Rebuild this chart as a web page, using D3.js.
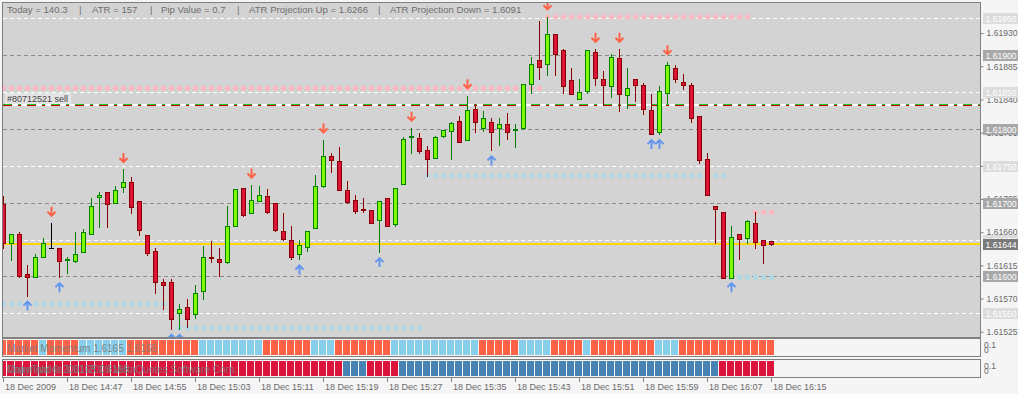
<!DOCTYPE html>
<html>
<head>
<meta charset="utf-8">
<script src="https://cdn.jsdelivr.net/npm/d3@7"></script>
<style>
body { margin: 0; background: #f5f5f5; }
svg { display: block; font-family: "Liberation Sans", Arial, sans-serif; }
</style>
</head>
<body>
<div id="container"></div>
<script>
// 1-minute bars, 18 Dec 2009 14:39 .. 16:15
let open = [1.61698,1.61645,1.61658,1.61603,1.61599,1.61626,1.61639,1.61638,1.61622,1.61620,
1.61633,1.61658,1.61707,1.61715,1.61699,1.61721,1.61728,1.61702,1.61656,1.61634,
1.61593,1.61593,1.61550,1.61558,1.61550,1.61580,1.61626,1.61624,1.61619,1.61668,
1.61720,1.61686,1.61702,1.61709,1.61699,1.61661,1.61649,1.61630,1.61639,1.61665,
1.61722,1.61763,1.61756,1.61717,1.61703,1.61691,1.61690,1.61676,1.61706,1.61671,
1.61725,1.61789,1.61788,1.61771,1.61760,1.61790,1.61797,1.61811,1.61785,1.61827,
1.61802,1.61809,1.61801,1.61807,1.61798,1.61801,1.61861,1.61893,1.61888,1.61929,
1.61907,1.61866,1.61841,1.61851,1.61904,1.61868,1.61858,1.61896,1.61846,1.61868,
1.61860,1.61826,1.61796,1.61849,1.61883,1.61864,1.61860,1.61817,1.61759,1.61695,
1.61688,1.61599,1.61657,1.61652,1.61672,1.61650,1.61648];
let high = [1.61709,1.61658,1.61660,1.61615,1.61630,1.61652,1.61672,1.61638,1.61626,1.61660,
1.61664,1.61707,1.61715,1.61715,1.61722,1.61745,1.61735,1.61702,1.61656,1.61638,
1.61596,1.61596,1.61563,1.61570,1.61588,1.61641,1.61648,1.61638,1.61695,1.61718,
1.61720,1.61724,1.61722,1.61718,1.61699,1.61686,1.61669,1.61649,1.61661,1.61737,
1.61785,1.61767,1.61775,1.61729,1.61711,1.61707,1.61690,1.61702,1.61706,1.61720,
1.61789,1.61801,1.61794,1.61777,1.61790,1.61798,1.61809,1.61817,1.61845,1.61834,
1.61824,1.61815,1.61815,1.61821,1.61807,1.61861,1.61897,1.61946,1.61952,1.61929,
1.61908,1.61883,1.61868,1.61907,1.61908,1.61878,1.61902,1.61908,1.61883,1.61868,
1.61862,1.61847,1.61858,1.61891,1.61887,1.61874,1.61862,1.61817,1.61768,1.61696,
1.61688,1.61668,1.61657,1.61676,1.61687,1.61650,1.61648];
let low = [1.61639,1.61622,1.61599,1.61574,1.61599,1.61626,1.61638,1.61599,1.61605,1.61620,
1.61633,1.61658,1.61667,1.61667,1.61699,1.61715,1.61686,1.61656,1.61629,1.61578,
1.61556,1.61529,1.61529,1.61531,1.61543,1.61570,1.61619,1.61601,1.61618,1.61668,
1.61682,1.61686,1.61702,1.61686,1.61662,1.61649,1.61624,1.61623,1.61635,1.61665,
1.61721,1.61741,1.61717,1.61699,1.61686,1.61688,1.61673,1.61633,1.61668,1.61669,
1.61725,1.61767,1.61768,1.61736,1.61760,1.61789,1.61759,1.61782,1.61785,1.61796,
1.61797,1.61771,1.61778,1.61786,1.61775,1.61800,1.61849,1.61868,1.61873,1.61873,
1.61849,1.61847,1.61841,1.61849,1.61860,1.61832,1.61843,1.61824,1.61828,1.61838,
1.61820,1.61793,1.61793,1.61835,1.61864,1.61854,1.61809,1.61754,1.61710,1.61645,
1.61599,1.61599,1.61624,1.61645,1.61638,1.61618,1.61643];
let close = [1.61645,1.61657,1.61601,1.61599,1.61626,1.61645,1.61639,1.61620,1.61624,1.61630,
1.61660,1.61696,1.61710,1.61699,1.61717,1.61728,1.61694,1.61662,1.61631,1.61592,
1.61589,1.61543,1.61556,1.61542,1.61578,1.61626,1.61625,1.61620,1.61668,1.61718,
1.61683,1.61703,1.61710,1.61687,1.61662,1.61650,1.61626,1.61642,1.61661,1.61722,
1.61763,1.61758,1.61717,1.61701,1.61688,1.61690,1.61673,1.61702,1.61668,1.61720,
1.61786,1.61790,1.61771,1.61759,1.61789,1.61798,1.61808,1.61782,1.61826,1.61809,
1.61815,1.61796,1.61807,1.61796,1.61800,1.61861,1.61888,1.61883,1.61929,1.61902,
1.61858,1.61847,1.61850,1.61907,1.61869,1.61860,1.61897,1.61847,1.61855,1.61860,
1.61827,1.61794,1.61851,1.61887,1.61868,1.61860,1.61815,1.61758,1.61710,1.61691,
1.61599,1.61654,1.61650,1.61675,1.61646,1.61643,1.61644];

// time axis labels, one every 8 bars
let timeLabels = ["18 Dec 2009","18 Dec 14:47","18 Dec 14:55","18 Dec 15:03","18 Dec 15:11",
  "18 Dec 15:19","18 Dec 15:27","18 Dec 15:35","18 Dec 15:43","18 Dec 15:51",
  "18 Dec 15:59","18 Dec 16:07","18 Dec 16:15"];
let priceTicks = [1.61930,1.61885,1.61840,1.61795,1.61750,1.61705,1.61660,1.61615,1.61570,1.61525];

// horizontal levels
let whiteLevels = [1.6195,1.6185,1.6175,1.6165,1.6155];
let grayLevels = [1.6190,1.6180,1.6170,1.6160];
let bidPrice = 1.61644;
let orderPrice = 1.61833;
let orderLabel = "#80712521 sell";

// dotted resistance / support rows: [from bar, to bar, price]
let pinkRows = [[0,67,1.61855],[68,93,1.61952],[94,96,1.61687]];
let blueRows = [[0,20,1.61563],[22,52,1.61530],[53,90,1.61737],[91,96,1.61599]];

// arrow signals (bar indexes)
let sellSignals = [6,15,31,40,51,58,68,74,77,83];
let buySignals = [3,7,21,22,37,47,61,81,82,91];

// indicator windows: 1 = down colour, 0 = up colour
let momentum = [1,1,1,1,1,0,1,1,1,1, 0,0,0,0,0,0,1,1,1,1, 1,1,1,1,1,0,0,0,0,0,
  0,0,0,1,1,1,1,1,1,0, 0,0,1,1,1,1,1,1,1,0, 0,0,0,0,0,0,0,0,0,0,
  1,1,1,1,1,0,0,0,0,1, 1,1,1,0,1,1,1,1,1,1, 1,1,0,0,0,1,1,1,1,1, 1,1,1,1,1,1,1];
let makeTrades = [1,1,1,1,1,1,1,1,1,1, 1,1,1,1,1,1,1,1,1,1, 1,1,1,1,1,1,1,1,1,1,
  1,1,1,1,1,1,1,1,1,1, 1,1,1,0,0,0,1,1,1,1, 0,0,0,0,0,0,0,0,0,0,
  0,0,0,0,0,0,0,0,0,0, 0,0,0,0,0,0,0,0,0,0, 0,0,0,0,0,0,0,0,0,0, 1,1,1,1,1,1,1];

let infoTexts = [["Today = 140.3",7],["|",79],["ATR = 157",92],["|",150],["Pip Value = 0.7",161],
  ["|",237],["ATR Projection Up = 1.6266",249],["|",378],["ATR Projection Down = 1.6091",390]];

let w = 1018;
let h = 394;
let plotL = 3, plotR = 980, plotT = 3, plotB = 337;

let viz = d3.select("#container").append("svg")
  .attr("width", w).attr("height", h)
  .style("background-color", "#f5f5f5");

let xScale = d3.scaleLinear().domain([0, 96]).range([3, 771]);
let yScale = d3.scaleLinear().domain([1.6155, 1.6195]).range([313.3, 18.3]);

let defs = viz.append("defs");
defs.append("clipPath").attr("id", "plotClip").append("rect")
  .attr("x", plotL).attr("y", plotT).attr("width", plotR - plotL).attr("height", plotB - plotT);
defs.append("clipPath").attr("id", "subClip").append("rect")
  .attr("x", plotL).attr("y", 338).attr("width", plotR - plotL).attr("height", 40);

// main plot background
viz.append("rect").attr("x", 2.5).attr("y", 2.5).attr("width", plotR - 2).attr("height", plotB - 2)
  .attr("fill", "#d3d3d3").attr("stroke", "#808080");

let plot = viz.append("g").attr("clip-path", "url(#plotClip)");

// grid / level lines
plot.selectAll(".wl").data(whiteLevels).enter().append("line")
  .attr("x1", plotL).attr("x2", plotR)
  .attr("y1", d => Math.round(yScale(d)) + 0.5).attr("y2", d => Math.round(yScale(d)) + 0.5)
  .attr("stroke", "#ffffff").attr("stroke-dasharray", "4,3");
plot.selectAll(".gl").data(grayLevels).enter().append("line")
  .attr("x1", plotL).attr("x2", plotR)
  .attr("y1", d => Math.round(yScale(d)) + 0.5).attr("y2", d => Math.round(yScale(d)) + 0.5)
  .attr("stroke", "#8c8c8c").attr("stroke-dasharray", "4,3");

// dotted rows
function dotRows(rows, color) {
  rows.forEach(function(r) {
    let idx = d3.range(r[0], r[1] + 1);
    plot.append("g").selectAll("circle").data(idx).enter().append("circle")
      .attr("cx", d => xScale(d) + 0.5)
      .attr("cy", yScale(r[2]))
      .attr("r", 2.5)
      .attr("fill", color);
  });
}
dotRows(pinkRows, "#ffb6c1");
dotRows(blueRows, "#add8e6");

// order line
let oy = Math.round(yScale(orderPrice));
plot.append("line").attr("x1", plotL).attr("x2", plotR).attr("y1", oy).attr("y2", oy)
  .attr("stroke", "#ffffff").attr("stroke-width", 2);
plot.append("line").attr("x1", plotL).attr("x2", plotR).attr("y1", oy - 0.5).attr("y2", oy - 0.5)
  .attr("stroke", "#22c322").attr("stroke-dasharray", "9,6,3,6");
plot.append("line").attr("x1", plotL).attr("x2", plotR).attr("y1", oy + 0.5).attr("y2", oy + 0.5)
  .attr("stroke", "#c00000").attr("stroke-dasharray", "9,6,3,6");
plot.append("rect").attr("x", 5).attr("y", oy - 12).attr("width", 66).attr("height", 11)
  .attr("fill", "#e4e4e4");
plot.append("text").attr("x", 7).attr("y", oy - 3).text(orderLabel)
  .attr("font-size", 9).attr("fill", "#404040");

// bid line
let by = Math.round(yScale(bidPrice));
plot.append("line").attr("x1", plotL).attr("x2", plotR).attr("y1", by).attr("y2", by)
  .attr("stroke", "#ffd700").attr("stroke-width", 2);

// candles
let bars = open.map(function(o, i) {
  return {i: i, o: o, h: high[i], l: low[i], c: close[i]};
});
function edgeColor(d) { return d.c > d.o ? "#008000" : (d.c < d.o ? "#8b0000" : "#000000"); }
let candles = plot.append("g").attr("shape-rendering", "crispEdges");
candles.selectAll(".wick").data(bars).enter().append("line")
  .attr("x1", d => xScale(d.i) + 0.5).attr("x2", d => xScale(d.i) + 0.5)
  .attr("y1", d => yScale(d.h)).attr("y2", d => yScale(d.l) + 1)
  .attr("stroke", edgeColor);
candles.selectAll(".body").data(bars.filter(d => d.o !== d.c)).enter().append("rect")
  .attr("x", d => xScale(d.i) - 1.5)
  .attr("width", 4)
  .attr("y", d => Math.round(yScale(Math.max(d.o, d.c))) + 0.5)
  .attr("height", d => Math.max(1, Math.round(Math.abs(yScale(d.o) - yScale(d.c)))))
  .attr("fill", d => d.c > d.o ? "#7cfc00" : "#dc143c")
  .attr("stroke", edgeColor);
candles.selectAll(".doji").data(bars.filter(d => d.o === d.c)).enter().append("line")
  .attr("x1", d => xScale(d.i) - 2).attr("x2", d => xScale(d.i) + 3)
  .attr("y1", d => Math.round(yScale(d.o)) + 0.5).attr("y2", d => Math.round(yScale(d.o)) + 0.5)
  .attr("stroke", "#000000");

// arrows
function arrowPath(cx, cy, dir) {
  // dir = 1 down, -1 up
  return "M" + cx + "," + (cy - 5 * dir) + "L" + cx + "," + (cy + 4 * dir) +
    "M" + (cx - 4) + "," + cy + "L" + cx + "," + (cy + 4 * dir) + "L" + (cx + 4) + "," + cy;
}
plot.selectAll(".sell").data(sellSignals).enter().append("path")
  .attr("d", d => arrowPath(xScale(d) + 0.5, yScale(high[d]) - 11.5, 1))
  .attr("fill", "none").attr("stroke", "#ff6347").attr("stroke-width", 2);
plot.selectAll(".buy").data(buySignals).enter().append("path")
  .attr("d", d => arrowPath(xScale(d) + 0.5, yScale(low[d]) + 10, -1))
  .attr("fill", "none").attr("stroke", "#6495ed").attr("stroke-width", 2);

// info line
plot.selectAll(".info").data(infoTexts).enter().append("text")
  .attr("x", d => d[1]).attr("y", 13)
  .attr("font-size", 9.6).attr("fill", "#6e6e6e")
  .text(d => d[0]);

// price axis
let yAxis = d3.axisRight(yScale).tickValues(priceTicks).tickFormat(d3.format(".5f"))
  .tickSize(3).tickPadding(3);
let yAxisGroup = viz.append("g").attr("transform", "translate(" + (plotR + 0.5) + ",0)").call(yAxis);
yAxisGroup.select(".domain").attr("stroke", "#808080").attr("d", "M0," + plotT + "V" + (plotB + 0.5));
yAxisGroup.selectAll("line").attr("stroke", "#808080");
yAxisGroup.selectAll("text").attr("font-size", 8.6).attr("fill", "#6a6a6a")
  .attr("font-family", "Liberation Sans, Arial, sans-serif");

function priceBox(value, fill) {
  let cy = Math.round(yScale(value));
  let g = viz.append("g");
  g.append("rect").attr("x", 983).attr("y", cy - 5).attr("width", 36).attr("height", 11).attr("fill", fill);
  g.append("text").attr("x", 985.5).attr("y", cy + 4).text(d3.format(".5f")(value))
    .attr("font-size", 8.6).attr("fill", "#ffffff");
}
whiteLevels.forEach(d => priceBox(d, "#dcdcdc"));
grayLevels.forEach(d => priceBox(d, "#a8a8a8"));
priceBox(bidPrice, "#7a7a7a");

// indicator windows
function indicatorWindow(top, states, colors, texts) {
  viz.append("rect").attr("x", 2.5).attr("y", top + 0.5).attr("width", plotR - 2).attr("height", 18)
    .attr("fill", "#f5f5f5").attr("stroke", "#808080");
  viz.append("g").attr("clip-path", "url(#subClip)")
    .selectAll("rect").data(states).enter().append("rect")
    .attr("x", (d, i) => xScale(i) - 4).attr("width", 7)
    .attr("y", top + 2).attr("height", 15)
    .attr("fill", d => colors[d]);
  texts.forEach(function(t) {
    viz.append("text").attr("x", 7).attr("y", top + 14).text(t)
      .attr("font-size", 10).attr("fill", "#7a7a7a").attr("fill-opacity", 0.9);
  });
  viz.append("text").attr("x", 984).attr("y", top + 10).text("0.1").attr("font-size", 8.6).attr("fill", "#6a6a6a");
  viz.append("text").attr("x", 984).attr("y", top + 15).text("0").attr("font-size", 8.6).attr("fill", "#6a6a6a");
}
indicatorWindow(338, momentum, ["#87ceeb", "#ff6347"], ["Market Momentum 1.6165 1.6165"]);
indicatorWindow(359, makeTrades, ["#4682b4", "#dc143c"],
  ["MakeTrades 1.6165 1.6165", "Copyright \u00a9 2001-2009 MetaQuotes Software Corp."]);

// time axis
let tickIdx = timeLabels.map((d, i) => i * 8);
let timeAxis = viz.append("g");
timeAxis.selectAll("line").data(tickIdx).enter().append("line")
  .attr("x1", d => xScale(d) + 0.5).attr("x2", d => xScale(d) + 0.5)
  .attr("y1", 378).attr("y2", 382).attr("stroke", "#808080");
timeAxis.selectAll("text").data(tickIdx).enter().append("text")
  .attr("x", d => xScale(d) + 2).attr("y", 390)
  .attr("font-size", 9).attr("fill", "#6a6a6a")
  .text((d, i) => timeLabels[i]);
</script>
</body>
</html>
